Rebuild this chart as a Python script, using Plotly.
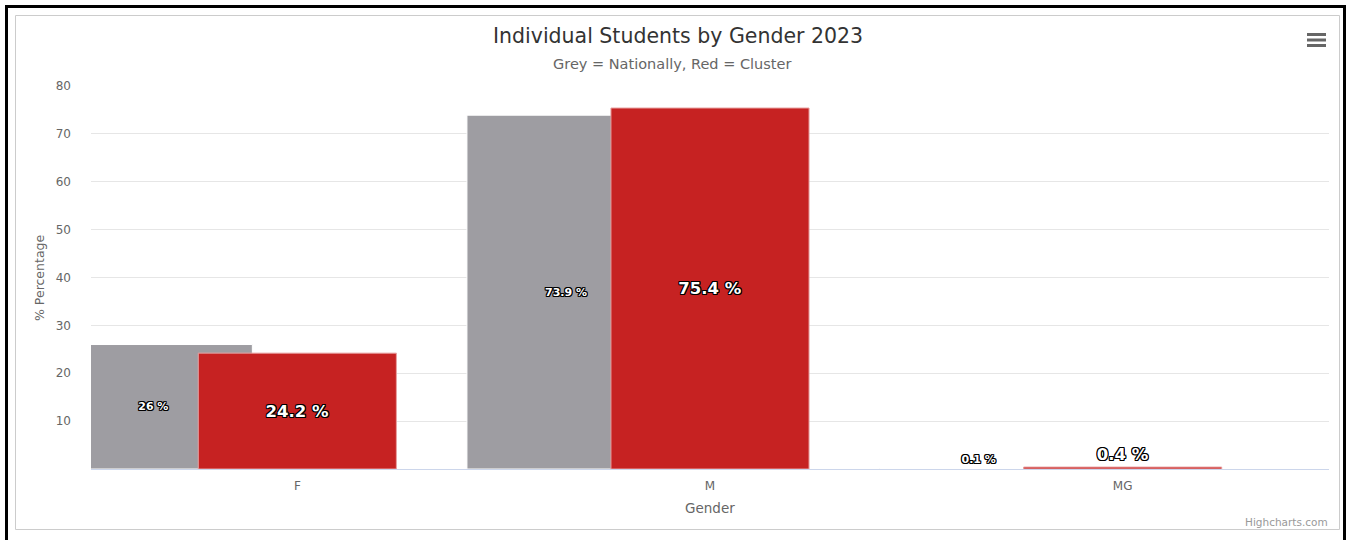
import plotly.graph_objects as go

categories = ["F", "M", "MG"]
national = [26.0, 73.9, 0.1]
cluster = [24.2, 75.4, 0.4]
y_ticks = [10, 20, 30, 40, 50, 60, 70, 80]

W, H = 1348, 540
L, R, T, B = 91, 1329, 86, 469
pw, ph = R - L, B - T

def px(x):
    return (x - L) / pw

def py(y):
    return (B - y) / ph

FONT = "DejaVu Sans, Verdana, sans-serif"
OUTLINE = ("1px 0 0 #000, -1px 0 0 #000, 0 1px 0 #000, 0 -1px 0 #000, "
           "1px 1px 0 #000, -1px -1px 0 #000, 1px -1px 0 #000, -1px 1px 0 #000")

bw = 0.48
fig = go.Figure()
fig.add_trace(go.Bar(
    x=categories, y=national, name="Nationally",
    marker=dict(color="#9e9da2", line=dict(color="#ffffff", width=1)),
    width=[bw] * 3, offset=[-0.589] * 3,
    text=[f"{v:g} %" for v in national],
    textposition=["inside", "inside", "outside"],
    insidetextanchor="middle",
    textfont=dict(family=FONT, size=11, color="#ffffff", weight="bold", shadow=OUTLINE),
    constraintext="none", cliponaxis=False,
))
fig.add_trace(go.Bar(
    x=categories, y=cluster, name="Cluster",
    marker=dict(color="#c62222", line=dict(color="#e8a0a0", width=1)),
    width=[bw] * 3, offset=[-0.24] * 3,
    text=[f"{v:g} %" for v in cluster],
    textposition=["inside", "inside", "outside"],
    insidetextanchor="middle",
    textfont=dict(family=FONT, size=16.5, color="#ffffff", weight="bold", shadow=OUTLINE),
    constraintext="none", cliponaxis=False,
))

shapes = [
    # outer black frame (bottom edge lies beyond the page)
    dict(type="rect", xref="paper", yref="paper",
         x0=px(6.5), x1=px(1344.5), y0=py(548), y1=py(6.5),
         line=dict(color="#000000", width=3), fillcolor="rgba(0,0,0,0)", layer="below"),
    # inner chart container border
    dict(type="rect", xref="paper", yref="paper",
         x0=px(15.5), x1=px(1339.5), y0=py(529.5), y1=py(15.5),
         line=dict(color="#cccccc", width=1), fillcolor="rgba(0,0,0,0)", layer="below"),
]
for yy in (34.5, 40, 45.5):
    shapes.append(dict(type="line", xref="paper", yref="paper",
                       x0=px(1307), x1=px(1326), y0=py(yy), y1=py(yy),
                       line=dict(color="#666666", width=3)))

annotations = [
    dict(text="Individual Students by Gender 2023", xref="paper", yref="paper",
         x=px(677.5), y=py(36), xanchor="center", yanchor="middle", showarrow=False,
         font=dict(family=FONT, size=20.5, color="#333333")),
    dict(text="Grey = Nationally, Red = Cluster", xref="paper", yref="paper",
         x=px(672), y=py(64), xanchor="center", yanchor="middle", showarrow=False,
         font=dict(family=FONT, size=14.5, color="#666666")),
    dict(text="% Percentage", xref="paper", yref="paper",
         x=px(39), y=py(278), xanchor="center", yanchor="middle", showarrow=False,
         textangle=-90, font=dict(family=FONT, size=12.5, color="#666666")),
    dict(text="Gender", xref="paper", yref="paper",
         x=px(710), y=py(508), xanchor="center", yanchor="middle", showarrow=False,
         font=dict(family=FONT, size=13.5, color="#666666")),
    dict(text="Highcharts.com", xref="paper", yref="paper",
         x=px(1330), y=py(522), xanchor="right", yanchor="middle", showarrow=False,
         font=dict(family=FONT, size=10.5, color="#999999")),
]

fig.update_layout(
    width=W, height=H,
    margin=dict(l=L, r=W - R, t=T, b=H - B, pad=0),
    paper_bgcolor="#ffffff", plot_bgcolor="#ffffff",
    barmode="overlay", showlegend=False,
    shapes=shapes, annotations=annotations,
    font=dict(family=FONT),
    xaxis=dict(type="category", range=[-0.5, 2.5], showgrid=False,
               showline=True, linecolor="#ccd6eb", linewidth=1,
               ticks="", tickfont=dict(family=FONT, size=12, color="#666666"),
               ticklabelstandoff=6, fixedrange=True),
    yaxis=dict(range=[0, 80], tickvals=y_ticks, ticktext=[str(v) for v in y_ticks],
               showgrid=True, gridcolor="#e6e6e6", gridwidth=1,
               zeroline=False, showline=False, ticks="",
               tickfont=dict(family=FONT, size=12, color="#666666"),
               ticklabelstandoff=19, fixedrange=True),
)

fig.write_html("out.html", config={"displayModeBar": False})
